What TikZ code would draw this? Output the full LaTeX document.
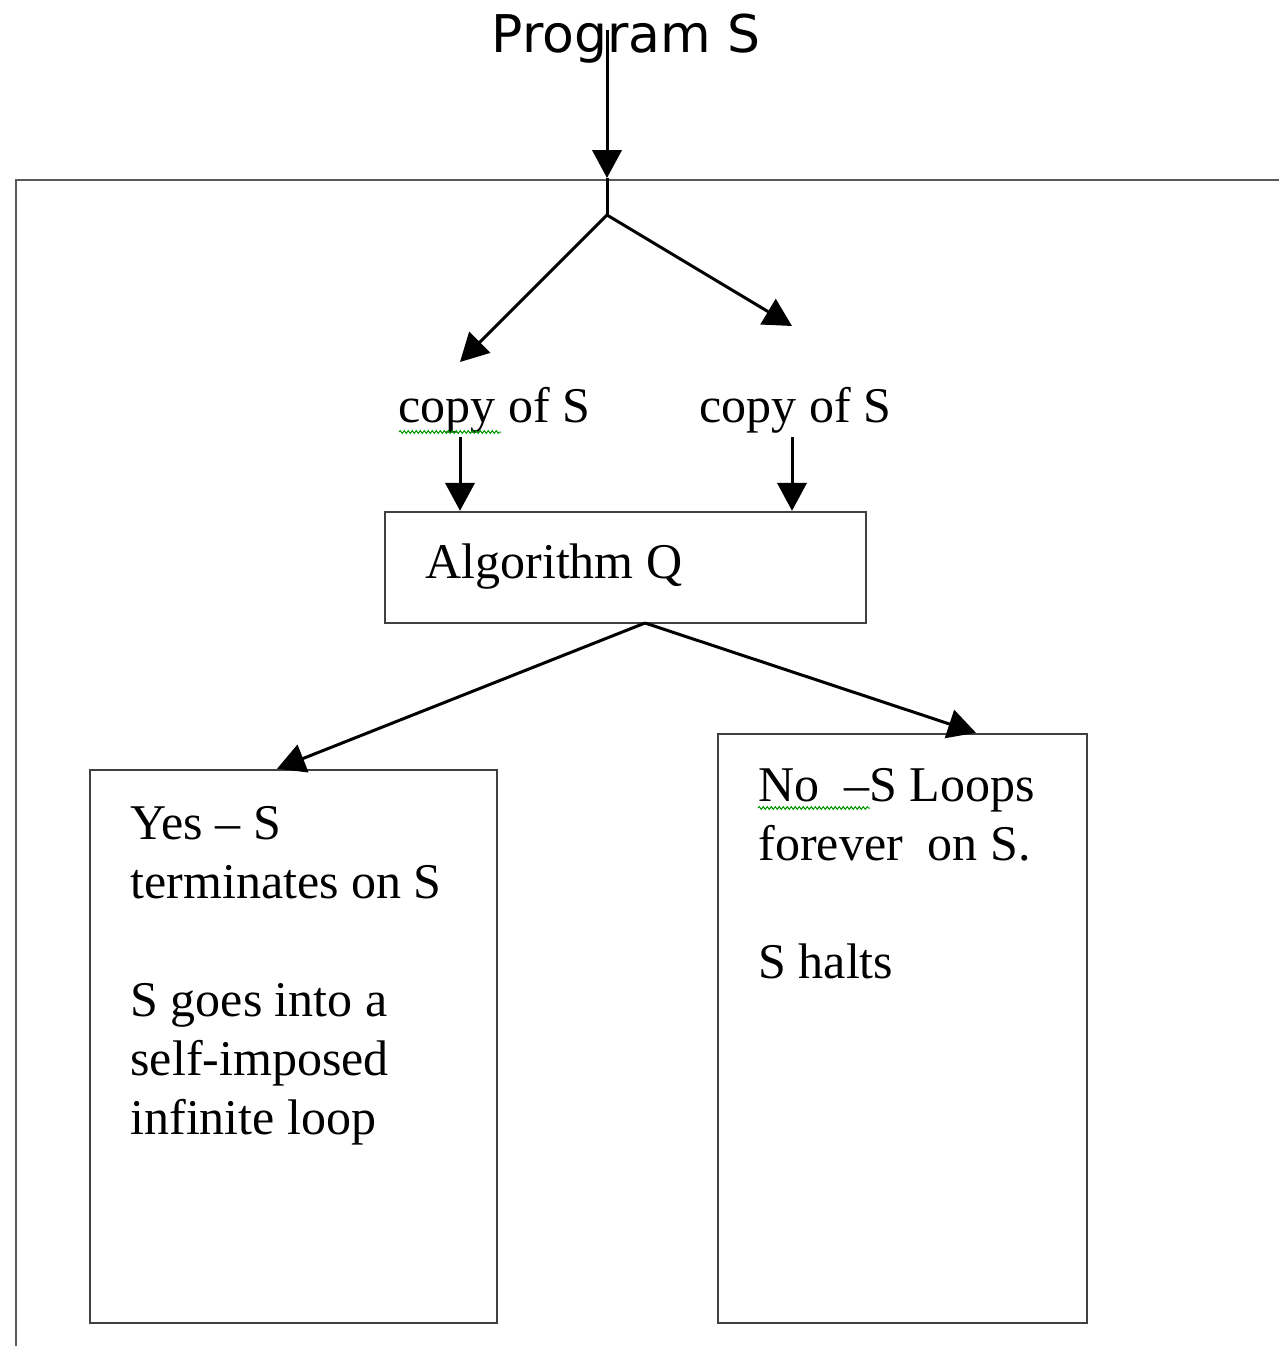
\documentclass[tikz,border=0pt]{standalone}
\usepackage{fontspec}
\setmainfont{Liberation Serif}
\newfontfamily\progfont{DejaVu Sans}
\usetikzlibrary{arrows.meta,fit,decorations.pathmorphing}

\tikzset{every picture/.style={line width=0.75pt}}
\tikzset{
  arr/.style={line width=2.25pt,-{Triangle[length=21pt,width=22pt]}},
  lin/.style={line width=2.25pt},
  box/.style={draw=black!75,line width=1.8pt,inner sep=0pt},
  frame/.style={draw=black!65,line width=1.6pt},
  txt/.style={inner sep=0pt,font=\fontsize{37.5}{44.25}\selectfont,align=left},
  squig/.style={draw=green!60!black,line width=0.75pt,decorate,decoration={snake,segment length=3pt,amplitude=1pt}}
}

\begin{document}
\begin{tikzpicture}[x=0.75pt,y=0.75pt,yscale=-1,xscale=1]
\useasboundingbox (0,0) rectangle (1279,1346);

%Shape: Outer frame
\draw[frame] (16,1346) -- (16,180) -- (1279,180) ;

% Text Node
\node[inner sep=0pt,anchor=base,font=\progfont\fontsize{39}{47}\selectfont] (prog) at (626,52) {Program S};
% Text Node
\node[txt,anchor=base west] (copyL) at (398,422) {copy of S};
% Text Node
\node[txt,anchor=base west] (copyR) at (699,422) {copy of S};

%Shape: Rectangle
\node[box,fit={(385,512) (866,623)}] (alg) {};
\node[txt,anchor=base west] (algtxt) at (425,578) {Algorithm Q};
%Shape: Rectangle
\node[box,fit={(90,770) (497,1323)}] (yes) {};
\node[txt,anchor=north west] (yestxt) at (130,806) {Yes -- S\\terminates on S\\[44.25pt]S goes into a\\self-imposed\\infinite loop};
%Shape: Rectangle
\node[box,fit={(718,734) (1087,1323)}] (no) {};
\node[txt,anchor=north west] (notxt) at (758,768) {No\ \ --S Loops\\forever\ \ on S.\\[44.25pt]S halts};

% Coordinates
\coordinate (ptop) at (607,30);
\coordinate (entry) at (607,178);
\coordinate (split) at (607,215);
\coordinate (tipL) at (460,362);
\coordinate (tipR) at (792,326);
\coordinate (cl) at (460,437);
\coordinate (cr) at (792,437);
\coordinate (algout) at (645,623);

%Straight Lines
\draw[arr] (ptop) -- (entry) ;
\draw[lin] (entry) -- (split) ;
\draw[arr] (split) -- (tipL) ;
\draw[arr] (split) -- (tipR) ;
\draw[arr] (cl) -- (cl |- alg.north) ;
\draw[arr] (cr) -- (cr |- alg.north) ;
\draw[arr] (algout) -- (yes.north -| 277,0) ;
\draw[arr] (algout) -- (no.north -| 976,0) ;

% Spelling marks
\draw[squig] (copyL.base west) ++(1,10) -- ++(102,0) ;
\draw[squig] (notxt.north west) ++(0,40) -- ++(112,0) ;

\end{tikzpicture}
\end{document}
